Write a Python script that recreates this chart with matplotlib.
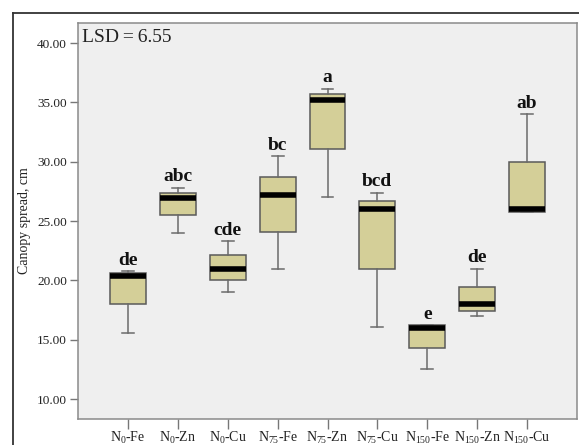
import matplotlib
matplotlib.use("Agg")
import matplotlib.pyplot as plt
from matplotlib.lines import Line2D

plt.rcParams['font.family'] = ['Liberation Serif', 'DejaVu Serif']
plt.rcParams['mathtext.fontset'] = 'custom'
plt.rcParams['mathtext.rm'] = 'Liberation Serif'
plt.rcParams['mathtext.it'] = 'Liberation Serif:italic'
plt.rcParams['mathtext.bf'] = 'Liberation Serif:bold'

categories = ["N$_{0}$-Fe", "N$_{0}$-Zn", "N$_{0}$-Cu", "N$_{75}$-Fe", "N$_{75}$-Zn",
              "N$_{75}$-Cu", "N$_{150}$-Fe", "N$_{150}$-Zn", "N$_{150}$-Cu"]
whisker_low = [15.6, 24.0, 19.0, 20.95, 27.0, 16.05, 12.55, 17.0, 25.8]
q1 = [18.0, 25.5, 20.0, 24.1, 31.1, 20.95, 14.3, 17.45, 25.8]
medians = [20.35, 26.95, 20.95, 27.2, 35.2, 26.0, 16.0, 18.0, 26.0]
q3 = [20.65, 27.35, 22.15, 28.75, 35.7, 26.65, 16.2, 19.45, 30.0]
whisker_high = [20.75, 27.8, 23.3, 30.45, 36.15, 27.4, 16.2, 21.0, 34.0]
letters = ["de", "abc", "cde", "bc", "a", "bcd", "e", "de", "ab"]
yticks = [10, 15, 20, 25, 30, 35, 40]
lsd_text = "LSD\u2009=\u20096.55"

fig = plt.figure(figsize=(5.79, 4.45), dpi=100)
ax = fig.add_axes([78/579, 26/445, 499/579, 396/445])
ax.set_facecolor('#efefef')

stats = []
for i in range(len(categories)):
    stats.append(dict(whislo=whisker_low[i], q1=q1[i], med=medians[i],
                      q3=q3[i], whishi=whisker_high[i], fliers=[], label=categories[i]))

positions = list(range(len(categories)))
ax.bxp(stats, positions=positions, widths=0.72, capwidths=0.24, patch_artist=True,
       showfliers=False,
       boxprops=dict(facecolor='#d4cf98', edgecolor='#5a5a5a', linewidth=1.1),
       whiskerprops=dict(color='#6a6a6a', linewidth=1.1),
       capprops=dict(color='#6a6a6a', linewidth=1.1),
       medianprops=dict(color='black', linewidth=4.0, solid_capstyle='butt'))

for i, lab in enumerate(letters):
    ax.annotate(lab, xy=(i, whisker_high[i]), xytext=(0, 8), textcoords='offset points',
                ha='center', va='center', fontsize=14, fontweight='bold', color='#111111')

ax.set_xlim(-1, 9)
ax.set_ylim(8.32, 41.69)
ax.set_yticks(yticks)
ax.set_yticklabels([f"{v:.2f}" for v in yticks], fontsize=9.5, color='#222222')
ax.set_xticks(positions)
ax.set_xticklabels(categories, fontsize=10, color='#222222')
ax.tick_params(axis='y', direction='out', length=6, color='#777777', width=1, pad=2)
ax.tick_params(axis='x', direction='out', length=7, color='#777777', width=1, pad=1)
for s in ax.spines.values():
    s.set_color('#8a8a8a')
    s.set_linewidth(1.1)

ax.set_ylabel("Canopy spread, cm", fontsize=10, color='#222222', labelpad=4)
ax.text(82/579, 1 - 38/445, lsd_text, transform=fig.transFigure, fontsize=14,
        ha='left', va='center', color='#222222')

# outer frame (left and top edges)
fig.add_artist(Line2D([12.5/579, 12.5/579], [0, 1 - 13/445], transform=fig.transFigure,
                      color='#333333', linewidth=1.3))
fig.add_artist(Line2D([12.5/579, 1], [1 - 13/445, 1 - 13/445], transform=fig.transFigure,
                      color='#333333', linewidth=1.3))

fig.savefig("out.png", dpi=100)
